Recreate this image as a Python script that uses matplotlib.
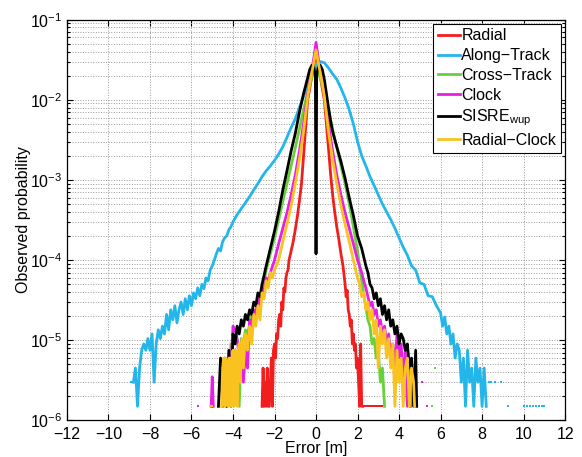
import matplotlib
matplotlib.use("Agg")
import matplotlib.pyplot as plt
from matplotlib.ticker import NullLocator, LogLocator
import numpy as np

plt.rcParams['font.family'] = ['Liberation Sans', 'DejaVu Sans']
plt.rcParams['mathtext.fontset'] = 'custom'
plt.rcParams['mathtext.rm'] = 'Liberation Sans'
plt.rcParams['mathtext.it'] = 'Liberation Sans:italic'
plt.rcParams['mathtext.bf'] = 'Liberation Sans:bold'

nan = np.nan

# --- Radial
radial_x = [-2.6, -2.55, -2.5, -2.45, -2.4, -2.35, -2.3, -2.25, -2.2, -2.15, -2.1, -2.05, -2.0, -1.95,
            -1.9, -1.85, -1.8, -1.75, -1.7, -1.65, -1.6, -1.55, -1.5, -1.45, -1.4, -1.35, -1.3,
            -1.2, -1.1, -1.0, -0.9, -0.8, -0.7, -0.6, -0.5, -0.4, -0.3, -0.2, -0.1, 0.0,
            0.1, 0.2, 0.3, 0.4, 0.5, 0.6, 0.7, 0.8, 0.9, 1.0, 1.1, 1.2,
            1.3, 1.35, 1.4, 1.45, 1.5, 1.55, 1.6, 1.65, 1.7, 1.75, 1.8, 1.85, 1.9, 1.95,
            2.0, 2.05, 2.1, 2.15, 2.2, 2.25]
radial_p = [1.5e-6, 4.5e-6, 1.5e-6, 3e-6, 1.5e-6, 4.5e-6, 1.5e-6, 1.5e-6, 3e-6, 6e-6, 1.5e-6, 7.5e-6, 9e-6, 6e-6,
            1.2e-5, 1.05e-5, 1.8e-5, 2.1e-5, 1.5e-5, 3e-5, 2.4e-5, 4.5e-5, 4e-5, 6e-5, 7e-5, 7.5e-5, 1.0e-4,
            1.3e-4, 1.7e-4, 2.4e-4, 3.5e-4, 5.5e-4, 9e-4, 2e-3, 4.5e-3, 1e-2, 1.4e-2, 2.0e-2, 2.8e-2, 3.6e-2,
            2.8e-2, 2.0e-2, 1.4e-2, 1e-2, 5e-3, 2.5e-3, 1.2e-3, 6.5e-4, 4e-4, 2.6e-4, 1.8e-4, 1.2e-4,
            8.5e-5, 6.5e-5, 5e-5, 3.5e-5, 4.2e-5, 2.4e-5, 2.1e-5, 1.5e-5, 1.8e-5, 9e-6, 1.2e-5, 7.5e-6, 9e-6, 4.5e-6,
            6e-6, 3e-6, 1.5e-6, 9e-6, 1.5e-6, 1.5e-6]
radial_dot_x = [2.35, 2.45, 2.55, 2.65, 2.72, 2.8, 2.9, 3.0, 3.1, 3.2]
radial_dot_p = [1.5e-6] * 10

# --- Along-Track
along_x = [-8.8, -8.7, -8.6, -8.5, -8.4, -8.3, -8.2, -8.1, -8.0, -7.9, -7.8, -7.7, -7.6, -7.5, -7.4,
           -7.3, -7.2, -7.1, -7.0, -6.9, -6.8, -6.7, -6.6, -6.5, -6.4, -6.3, -6.2, -6.1, -6.0, -5.9,
           -5.8, -5.7, -5.6, -5.5, -5.4, -5.3, -5.2, -5.1, -5.0, -4.9, -4.8, -4.7, -4.6, -4.5, -4.4,
           -4.3, -4.2, -4.1, -4.0,
           -3.8, -3.6, -3.4, -3.2, -3.0, -2.8, -2.6, -2.4, -2.2, -2.0, -1.8, -1.6, -1.4, -1.2, -1.0,
           -0.8, -0.6, -0.4, -0.2, 0.0, 0.2, 0.4, 0.6, 0.8, 1.0, 1.2, 1.4, 1.6, 1.8, 2.0, 2.2, 2.4,
           2.6, 2.8, 3.0, 3.2, 3.4, 3.6, 3.8, 4.0, 4.2, 4.4, 4.6, 4.8, 5.0, 5.2, 5.4, 5.6, 5.8, 6.0,
           6.1, 6.2, 6.3, 6.4, 6.5, 6.6, 6.7, 6.8, 6.9, 7.0, 7.1, 7.2, 7.3, 7.4, 7.5, 7.6, 7.7, 7.8,
           7.9, 8.0, 8.1, 8.2]
along_p = [3.0e-6, 4.5e-6, 1.5e-6, 4.5e-6, 7.5e-6, 9.0e-6, 7.5e-6, 1.05e-5, 7.5e-6, 1.2e-5, 3.0e-6, 9.0e-6,
           1.35e-5, 1.05e-5, 1.5e-5, 1.2e-5, 2.1e-5, 1.35e-5, 2.4e-5, 1.8e-5, 2.7e-5, 1.65e-5, 2.4e-5,
           3.0e-5, 2.1e-5, 3.3e-5, 2.4e-5, 3.6e-5, 2.7e-5, 3.9e-5, 3.3e-5, 4.5e-5, 3.6e-5, 5.0e-5, 4.4e-5,
           6.0e-5, 5.5e-5, 7.5e-5, 8.5e-5, 1.0e-4, 1.2e-4, 1.4e-4, 1.3e-4, 1.7e-4, 1.9e-4, 2.0e-4, 2.4e-4,
           2.6e-4, 3.0e-4,
           3.7e-4, 4.4e-4, 5.2e-4, 6.2e-4, 7.5e-4, 9.0e-4, 1.1e-3, 1.3e-3, 1.5e-3, 1.75e-3, 2.1e-3, 2.6e-3,
           3.4e-3, 4.5e-3, 5.8e-3,
           8e-3, 1.1e-2, 1.5e-2, 2.1e-2, 2.7e-2, 3.0e-2, 2.9e-2, 2.5e-2, 2.1e-2, 1.8e-2, 1.4e-2, 1.05e-2,
           7.5e-3, 5e-3, 3e-3, 2e-3, 1.5e-3, 1.1e-3, 8.5e-4, 6.5e-4, 5e-4, 4e-4, 3.2e-4, 2.5e-4, 1.9e-4,
           1.45e-4, 1.15e-4, 8.5e-5, 7.5e-5, 5.2e-5, 5e-5, 3.6e-5, 3.5e-5, 2.7e-5, 2.2e-5,
           1.5e-5, 1.95e-5, 1.2e-5, 1.5e-5, 9e-6, 1.2e-5, 6e-6, 9e-6, 7.5e-6, 3e-6, 6e-6, 1.5e-6, 7.5e-6,
           3e-6, 4.5e-6, 1.5e-6, 6e-6, 3e-6, 4.5e-6, 1.5e-6, 4.5e-6, 1.5e-6]
along_dot_x = [-8.9, 8.35, 8.45, 8.6, 8.9, 9.25, 10.0, 10.15, 10.3, 10.45, 10.6, 10.75, 10.9, 11.0]
along_dot_p = [3e-6, 3e-6, 3e-6, 3e-6, 3e-6, 1.5e-6, 1.5e-6, 1.5e-6, 1.5e-6, 1.5e-6, 1.5e-6, 1.5e-6,
               1.5e-6, 1.5e-6]

# --- Cross-Track
cross_x = [-4.3, -4.2, -4.1, -4.0, -3.9, -3.8, -3.7, -3.6, -3.5, -3.4, -3.3, -3.2, -3.1, -3.0, -2.9,
           -2.8, -2.7, -2.6, -2.5,
           -2.4, -2.2, -2.0, -1.8, -1.6, -1.4, -1.2, -1.0, -0.8, -0.6, -0.4, -0.2, 0.0, 0.2, 0.4, 0.6,
           0.8, 1.0, 1.2, 1.4, 1.6, 1.8, 2.0, 2.2, 2.4,
           2.5, 2.6, 2.7, 2.8, 2.9, 3.0, 3.1, 3.2, 3.3]
cross_p = [1.5e-6, 3e-6, 9e-6, 4.5e-6, 7.5e-6, 6e-6, 1.5e-6, 1.05e-5, 9e-6, 1.35e-5, 1.2e-5, 1.5e-5,
           2.1e-5, 1.8e-5, 2.4e-5, 2.7e-5, 3.6e-5, 4e-5, 5.5e-5,
           7.5e-5, 1.2e-4, 1.9e-4, 3.2e-4, 5.4e-4, 9e-4, 1.5e-3, 2.5e-3, 4.3e-3, 7.5e-3, 1.25e-2, 1.9e-2,
           2.4e-2, 1.9e-2, 1.25e-2, 7.5e-3, 4.3e-3, 2.5e-3, 1.5e-3, 9e-4, 5e-4, 2.6e-4, 1.3e-4, 5.5e-5,
           2.6e-5,
           1.8e-5, 1.5e-5, 9e-6, 1.05e-5, 6e-6, 7.5e-6, 3e-6, 4.5e-6, 1.5e-6]
cross_dot_x = [5.6, 5.72]
cross_dot_p = [1.5e-6, 4.5e-6]

# --- Clock
clock_x = [-5.05, -5.0, -4.95, nan,
           -4.4, -4.3, -4.2, -4.1, -4.0, -3.9, -3.8, -3.7, -3.6, -3.5, -3.4, -3.3, -3.2, -3.1, -3.0,
           -2.9, -2.8, -2.7, -2.6, -2.5, -2.4, -2.3,
           -2.2, -2.0, -1.8, -1.6, -1.4, -1.2, -1.0, -0.8, -0.6, -0.4, -0.2, -0.1, 0.0, 0.1, 0.2, 0.4,
           0.6, 0.8, 1.0, 1.2, 1.4, 1.6, 1.8, 2.0, 2.2,
           2.3, 2.4, 2.5, 2.6, 2.7, 2.8, 2.9, 3.0, 3.1, 3.2, 3.3, 3.4, 3.5, 3.6, 3.7, 3.8, 3.9, 4.0,
           4.1, 4.2, 4.3, 4.4, 4.5, 4.55]
clock_p = [1.5e-6, 3.5e-6, 1.5e-6, nan,
           3e-6, 1.5e-6, 6e-6, 4.5e-6, 1.5e-5, 1.35e-5, 1.05e-5, 6e-6, 9e-6, 3e-6, 7.5e-6, 4.5e-6, 1.8e-5,
           1.5e-5, 2.4e-5, 2.1e-5, 3.3e-5, 2.7e-5, 4.5e-5, 4e-5, 6e-5, 5.5e-5,
           7e-5, 1e-4, 1.6e-4, 2.5e-4, 3.9e-4, 6.5e-4, 1.15e-3, 2.3e-3, 5e-3, 1.2e-2, 2.4e-2, 3.4e-2,
           5.2e-2, 3.4e-2, 2.4e-2, 1.2e-2, 5e-3, 2.3e-3, 1.15e-3, 6.5e-4, 3.9e-4, 2.5e-4, 1.6e-4, 1e-4,
           7e-5,
           5.5e-5, 4.5e-5, 3.5e-5, 2.7e-5, 3e-5, 2.1e-5, 2.4e-5, 1.5e-5, 1.8e-5, 1.2e-5, 1.5e-5, 9e-6,
           1.2e-5, 6e-6, 9e-6, 4.5e-6, 1.2e-5, 6e-6, 9e-6, 3e-6, 7.5e-6, 1.5e-6, 4.5e-6, 1.5e-6]
clock_dot_x = [-5.7, 5.1, 5.35]
clock_dot_p = [1.5e-6, 3e-6, 1.5e-6]

# --- SISRE_wup
sisre_x = [-4.7, -4.6, -4.5, -4.4, -4.3, -4.2, -4.1, -4.0, -3.9, -3.8, -3.7, -3.6, -3.5, -3.4, -3.3,
           -3.2, -3.1, -3.0, -2.9, -2.8, -2.7, -2.6, -2.5,
           -2.4, -2.2, -2.0, -1.8, -1.6, -1.4, -1.2, -1.0, -0.8, -0.6, -0.5, -0.4, -0.3, -0.2, -0.1,
           -0.03, 0.0, 0.03, 0.1, 0.2, 0.3, 0.4, 0.5, 0.6, 0.7, 0.8, 1.0, 1.2, 1.4, 1.6, 1.8, 2.0,
           2.2, 2.4,
           2.5, 2.6, 2.7, 2.8, 2.9, 3.0, 3.1, 3.2, 3.3, 3.4, 3.5, 3.6, 3.7, 3.8, 3.9, 4.0, 4.1, 4.2,
           4.3, 4.4, 4.5, 4.6, 4.7, 4.8, 4.85]
sisre_p = [1.5e-6, 6e-6, 1.5e-6, 6e-6, 1.5e-6, 7.5e-6, 1.5e-6, 1.2e-5, 9e-6, 1.5e-5, 1.2e-5, 1.8e-5,
           1.5e-5, 2.1e-5, 1.8e-5, 2.4e-5, 2.1e-5, 3.0e-5, 2.7e-5, 3.9e-5, 3.5e-5, 5e-5, 6.5e-5,
           8.5e-5, 1.4e-4, 2.3e-4, 4e-4, 7.5e-4, 1.3e-3, 2.3e-3, 3.8e-3, 7e-3, 1.2e-2, 1.5e-2, 1.9e-2,
           2.4e-2, 2.7e-2, 2.5e-2, 2e-2, 1.2e-4, 2e-2, 2.5e-2, 2.7e-2, 2.4e-2, 1.8e-2, 1.2e-2, 8e-3,
           5.5e-3, 4e-3, 2.6e-3, 1.7e-3, 1.05e-3, 6e-4, 3.6e-4, 2e-4, 1.4e-4, 8.5e-5,
           7e-5, 5e-5, 4.5e-5, 3.3e-5, 3.9e-5, 2.7e-5, 3.3e-5, 2.1e-5, 2.7e-5, 1.8e-5, 2.4e-5, 1.5e-5,
           1.8e-5, 1.2e-5, 1.5e-5, 9e-6, 1.2e-5, 1.05e-5, 7.5e-6, 9e-6, 4.5e-6, 6e-6, 1.5e-6, 7.5e-6,
           1.5e-6]

# --- Radial-Clock
rc_x = [-4.55, -4.5, -4.45, -4.4, -4.35, -4.3, -4.25, -4.2, -4.15, -4.1, -4.05, -4.0, -3.95, -3.9,
        -3.85, -3.8, -3.75, -3.7, -3.65, -3.6, -3.55, -3.5,
        -3.4, -3.3, -3.2, -3.1, -3.0, -2.9, -2.8, -2.7, -2.6, -2.5, -2.4, -2.3, -2.2, -2.1, -2.0,
        -1.8, -1.6, -1.4, -1.2, -1.0, -0.8, -0.6, -0.4, -0.3, -0.2, -0.1, 0.0, 0.1, 0.2, 0.3, 0.4,
        0.6, 0.8, 1.0, 1.2, 1.4, 1.6, 1.8,
        2.0, 2.1, 2.2, 2.3, 2.4, 2.5, 2.6, 2.7, 2.8, 2.9, 3.0, 3.1, 3.2, 3.3, 3.4, 3.5, 3.6, 3.7,
        3.8, 3.9, 4.0, 4.1, 4.2, 4.3, 4.4, 4.5, 4.6, 4.7, 4.75]
rc_p = [1.5e-6, 4.5e-6, 6e-6, 1.5e-6, 6e-6, 4.5e-6, 1.5e-6, 6e-6, 6e-6, 1.5e-6, 6e-6, 7.5e-6, 1.5e-6,
        7.5e-6, 6e-6, 1.5e-6, 7.5e-6, 9e-6, 3e-6, 9e-6, 1.05e-5, 4.5e-6,
        1.2e-5, 7.5e-6, 1.5e-5, 9e-6, 2.1e-5, 1.5e-5, 2.7e-5, 1.8e-5, 3.9e-5, 3.3e-5, 5.5e-5, 4.5e-5,
        7e-5, 6e-5, 7.5e-5,
        1.0e-4, 1.7e-4, 2.8e-4, 4.8e-4, 9e-4, 1.8e-3, 4e-3, 1.1e-2, 1.6e-2, 2.2e-2, 3.0e-2, 4.2e-2,
        3.0e-2, 2.2e-2, 1.6e-2, 1.1e-2, 4e-3, 1.8e-3, 9e-4, 4.8e-4, 2.8e-4, 1.7e-4, 1e-4,
        6e-5, 5e-5, 3.5e-5, 4e-5, 2.4e-5, 3e-5, 1.8e-5, 2.4e-5, 1.2e-5, 1.8e-5, 4.5e-6, 1.5e-5, 9e-6,
        1.35e-5, 6e-6, 1.05e-5, 4.5e-6, 9e-6, 1.5e-6, 7.5e-6, 3e-6, 6e-6, 1.5e-6, 4.5e-6, 6e-6, 1.5e-6,
        4.5e-6, 3e-6, 1.5e-6]
rc_dot_x = [-5.1, -5.0]
rc_dot_p = [1.5e-6, 1.5e-6]

labels = ['Radial', 'Along\u2212Track', 'Cross\u2212Track', 'Clock', r'SISRE$_{\mathrm{wup}}$',
          'Radial\u2212Clock']
colors = ['#f21d1d', '#22b6ea', '#66d13a', '#e61ee6', '#000000', '#f9c21e']

fig, ax = plt.subplots(figsize=(5.82, 4.57), dpi=100)
fig.subplots_adjust(left=0.115, right=0.971, bottom=0.080, top=0.957)

curves = [(radial_x, radial_p, radial_dot_x, radial_dot_p),
          (along_x, along_p, along_dot_x, along_dot_p),
          (cross_x, cross_p, cross_dot_x, cross_dot_p),
          (clock_x, clock_p, clock_dot_x, clock_dot_p),
          (sisre_x, sisre_p, [], []),
          (rc_x, rc_p, rc_dot_x, rc_dot_p)]

for (x, p, dx, dp), c, lab in zip(curves, colors, labels):
    ax.plot(x, p, color=c, lw=2.0, label=lab)
    if dx:
        ax.plot(dx, dp, ls='none', marker='s', ms=1.6, mew=0, color=c)

ax.set_yscale('log')
ax.set_ylim(1e-6, 1e-1)
ax.set_xlim(-12, 12)
ax.set_xticks(range(-12, 13, 2))
ax.xaxis.set_minor_locator(NullLocator())
ax.yaxis.set_minor_locator(LogLocator(base=10, subs=range(2, 10)))

ax.tick_params(which='both', direction='in', top=True, right=True, labelsize=11.5, width=0.8)
ax.tick_params(which='major', length=4)
ax.tick_params(which='minor', length=2)
ax.tick_params(axis='x', pad=5)
for s in ax.spines.values():
    s.set_linewidth(0.9)

ax.grid(True, which='major', ls=':', color='#9a9a9a', lw=0.7)
ax.grid(True, which='minor', axis='y', ls=':', color='#9a9a9a', lw=0.7)
ax.set_axisbelow(True)

ax.set_xlabel('Error [m]', fontsize=11.5, labelpad=-1)
ax.set_ylabel('Observed probability', fontsize=11.5, labelpad=-1)

leg = ax.legend(loc='upper right', fontsize=11.5, handlelength=1.4, handletextpad=0.1,
                labelspacing=0.3, borderpad=0.3, borderaxespad=0.25, fancybox=False,
                edgecolor='black', framealpha=1)
leg.get_frame().set_linewidth(0.8)

fig.savefig('out.png', dpi=100)
